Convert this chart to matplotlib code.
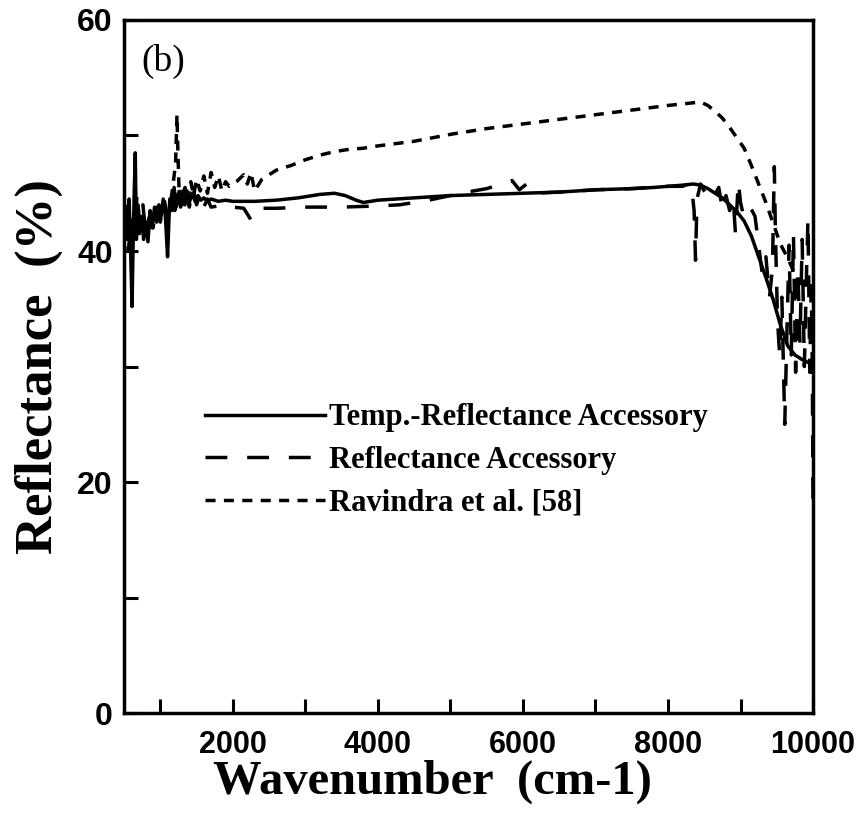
import matplotlib.pyplot as plt

# Temp.-Reflectance Accessory (solid)
temp_x = [520, 545, 570, 595, 610, 625, 640, 655, 670, 690, 710, 740, 770, 800, 830,
          860, 890, 920, 950, 980, 1010, 1040, 1070, 1100, 1115, 1130, 1160, 1190, 1220,
          1250, 1280, 1310, 1340, 1370, 1400, 1440, 1480, 1520, 1560, 1600, 1650, 1700,
          1800, 1900, 2000, 2300, 2600, 2900, 3200, 3400, 3550, 3700, 3800, 4000, 4500,
          5000, 5500, 6000, 6500, 7000, 7500, 7800, 8000, 8200, 8350, 8450, 8550, 8650,
          8750, 8850, 8950, 9050, 9150, 9250, 9350, 9450, 9550, 9650, 9750, 9850, 9950,
          10000]
temp_y = [43, 41, 44.5, 39, 35.2, 40.5, 45, 48.5, 41, 44, 41.5, 43, 41, 42.5, 40.8,
          43.5, 42, 43.8, 42.5, 44, 43, 44.5, 43, 39.5, 42, 44.5, 43.5, 45.5, 43.8,
          45, 43.8, 45.2, 44, 45, 44.2, 45, 44.3, 44.8, 44.4, 44.6, 44.3, 44.5,
          44.3, 44.4, 44.3, 44.3, 44.4, 44.6, 44.9, 45.0, 44.8, 44.4, 44.2, 44.4, 44.6,
          44.8, 44.9, 45.0, 45.1, 45.3, 45.4, 45.5, 45.6, 45.7, 45.8, 45.7, 45.4, 45.0,
          44.6, 44.0, 43.4, 42.6, 41.3, 39.5, 37.7, 35.8, 33.6, 31.8, 31.0, 30.6, 30.3,
          30.1]

# Reflectance Accessory (long dashes)
refl_x = [520, 560, 600, 640, 680, 720, 760, 800, 850, 900, 950, 1000, 1050, 1100,
          1150, 1200, 1250, 1300, 1350, 1400, 1450, 1500, 1550, 1600, 1650, 1700, 1800,
          1900, 2000, 2150, 2250, 2300, 2400, 2600, 3000, 3500, 4000, 4300, 4700, 5000,
          5230, 5500, 5700, 5850, 5950, 6050, 6150, 6500, 7000, 7500, 8000, 8200, 8320,
          8360, 8380, 8400, 8450, 8500, 8600, 8700, 8750, 8800, 8850, 8900, 8930, 8970,
          9000, 9050, 9100, 9150, 9200, 9250, 9300, 9350, 9400, 9440, 9466, 9480, 9510,
          9540, 9570, 9610, 9640, 9670, 9700, 9730, 9760, 9790, 9820, 9850, 9880, 9910,
          9930, 9955, 9975, 9990, 10000]
refl_y = [44, 40, 43, 41, 45, 42, 44, 41.5, 43, 42, 44, 42.5, 44.5, 43,
          45, 43.5, 45.5, 44, 45.8, 43.8, 45.5, 44, 45, 43.8, 44.5, 43.8, 43.9,
          43.6, 43.8, 43.7, 42.7, 43.5, 43.7, 43.7, 43.8, 43.8, 43.9, 44.0, 44.4, 44.8,
          45.1, 45.4, 45.8, 46.1, 45.3, 45.8, 45.0, 45.1, 45.3, 45.4, 45.6, 45.6, 45.9,
          43.5, 39.2, 44.5, 45.8, 45.2, 44.3, 45.5, 43.6, 44.8, 43.5, 44.5, 41.5, 46,
          44.2, 42.8, 43.4, 43.6, 43.0, 40.5, 38.0, 39.5, 36.0, 38.5, 47.3, 42, 34,
          31, 36, 25, 33, 40.5, 31, 41.5, 29.5, 38.5, 32, 41, 30, 38,
          42.8, 29.5, 37, 30, 17.5]

# Ravindra et al. [58] (short dashes)
rav_x = [1150, 1180, 1210, 1230, 1245, 1260, 1300, 1340, 1380, 1420, 1460, 1500, 1550,
         1600, 1650, 1700, 1750, 1800, 1850, 1900, 1950, 2050, 2150, 2200, 2250, 2300,
         2400, 2600, 2800, 3000, 3200, 3400, 3600, 3800, 4000, 4500, 5000, 5500, 6000,
         6500, 7000, 7500, 8000, 8300, 8450, 8550, 8650, 8750, 8850, 8950, 9050, 9150,
         9250, 9350, 9450, 9550, 9650, 9750, 9850, 9950, 10000]
rav_y = [44.5, 46, 47.5, 51.8, 48, 45, 44, 45.5, 44.5, 46, 44.8, 46.2, 45.2,
         46.5, 45, 46.8, 45.5, 46.5, 45.2, 46, 45.6, 46, 46.6, 45.8, 46.8, 45.2,
         46.2, 47.0, 47.4, 47.9, 48.3, 48.6, 48.8, 48.9, 49.1, 49.5, 50.1, 50.6, 51.0,
         51.4, 51.8, 52.2, 52.6, 52.8, 52.9, 52.6, 52.1, 51.5, 50.7, 49.8, 48.9, 47.4,
         45.8, 44.2, 42.4, 40.6, 39.4, 38.0, 37.1, 36.9, 36.9]

x_ticks = [1000, 2000, 3000, 4000, 5000, 6000, 7000, 8000, 9000, 10000]
x_labels = ['', '2000', '', '4000', '', '6000', '', '8000', '', '10000']
y_ticks = [0, 10, 20, 30, 40, 50, 60]
y_labels = ['0', '', '20', '', '40', '', '60']

fig = plt.figure(figsize=(8.62, 8.16), dpi=100)
ax = fig.add_axes([0.1439, 0.1262, 0.7993, 0.8493])

lw = 2.5
ax.plot(temp_x, temp_y, color='black', lw=lw, ls='-',
        label='Temp.-Reflectance Accessory')
ax.plot(refl_x, refl_y, color='black', lw=lw, ls=(0, (6.3, 5.7)),
        label='Reflectance Accessory')
ax.plot(rav_x, rav_y, color='black', lw=lw, ls=(0, (2.9, 2.4)),
        label='Ravindra et al. [58]')

ax.set_xlim(500, 10000)
ax.set_ylim(0, 60)
ax.set_xticks(x_ticks)
ax.set_xticklabels(x_labels, fontfamily=['Liberation Sans Narrow', 'Liberation Sans'],
                   fontweight='bold', fontsize=22)
ax.set_yticks(y_ticks)
ax.set_yticklabels(y_labels, fontfamily='Liberation Sans', fontweight='bold', fontsize=23)
ax.tick_params(direction='in', length=10, width=2.2)
ax.tick_params(axis='x', pad=12)
ax.tick_params(axis='y', pad=8)

for s in ax.spines.values():
    s.set_linewidth(2.5)

ax.set_xlabel('Wavenumber  (cm-1)', fontfamily='Liberation Serif', fontweight='bold',
              fontsize=35, labelpad=0, x=0.447)
ax.set_ylabel('Reflectance  (%)', fontfamily='Liberation Serif', fontweight='bold',
              fontsize=38, labelpad=10)

ax.text(0.025, 0.965, '(b)', transform=ax.transAxes, fontfamily='Liberation Serif',
        fontsize=27, va='top', ha='left')

ax.legend(loc='upper left', bbox_to_anchor=(0.096, 0.469), frameon=False,
          handlelength=3.9, handletextpad=0.15, labelspacing=0.45, borderpad=0,
          prop={'family': 'Liberation Serif', 'weight': 'bold', 'size': 22})

fig.savefig('out.png', dpi=100)
